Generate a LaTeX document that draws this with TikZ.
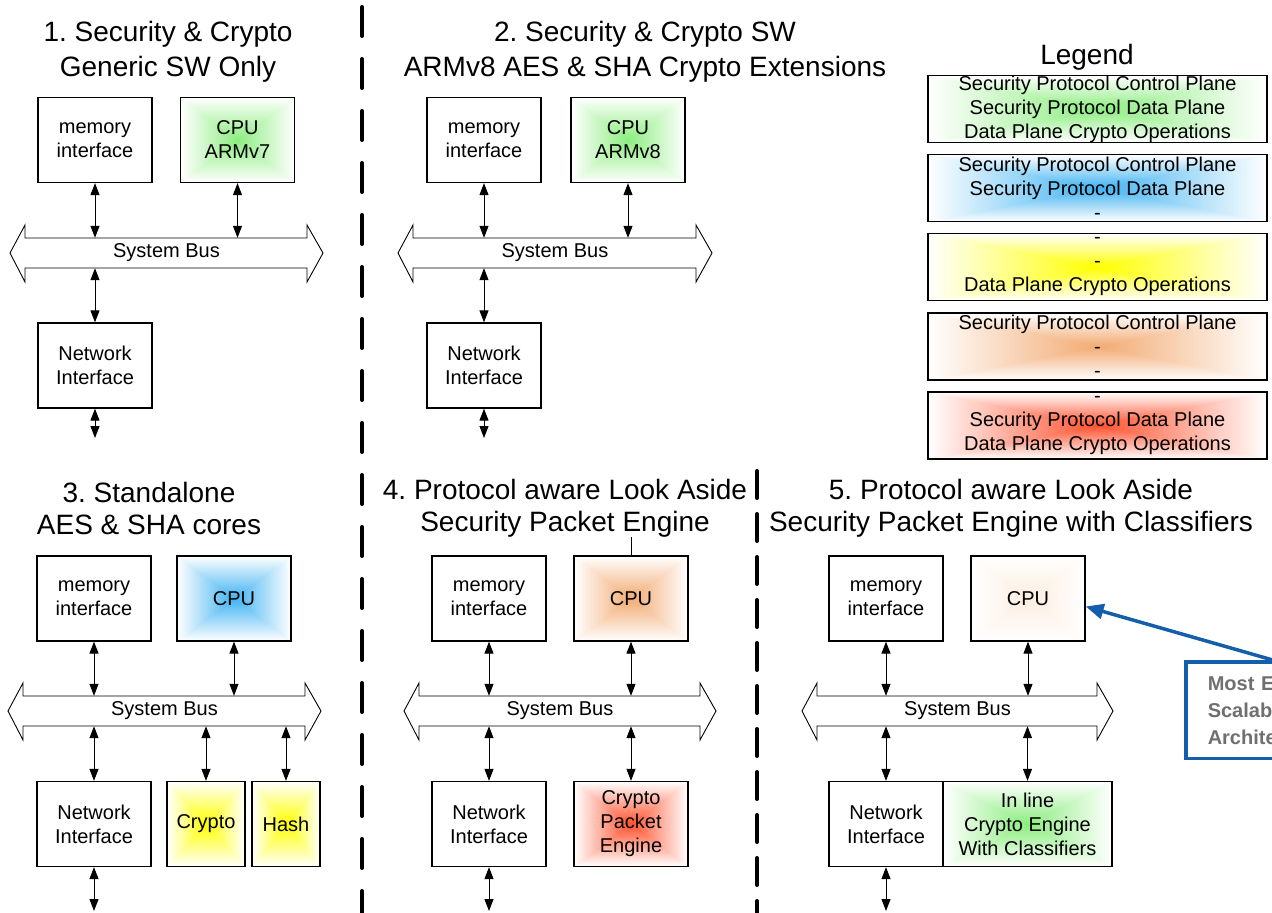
\documentclass[tikz,border=0pt]{standalone}
\usepackage{fontspec}
\setmainfont{Liberation Sans}
\usetikzlibrary{arrows.meta}
\frenchspacing

% Rectangular "glow" fill: colour at the centre, fading to white at the edges.
% Args: name, r, g, b of the centre colour.
\newcommand\declareglow[4]{%
  \pgfdeclarefunctionalshading{#1}{\pgfpoint{0bp}{0bp}}{\pgfpoint{100bp}{100bp}}{}{%
    50 sub abs exch 50 sub abs
    2 copy sub abs add add 2 div 25 div
    dup 1 sub abs neg add 1 add 2 div
    dup 1 #2 sub mul #2 add exch
    dup 1 #3 sub mul #3 add exch
    1 #4 sub mul #4 add}}
\declareglow{glowgreen}{0.55}{0.93}{0.50}
\declareglow{glowblue}{0.25}{0.70}{0.95}
\declareglow{glowyellow}{1}{1}{0}
\declareglow{gloworange}{0.95}{0.67}{0.45}
\declareglow{glowred}{1}{0.32}{0.18}
\declareglow{glowpeach}{0.99}{0.93}{0.88}

\definecolor{calloutblue}{RGB}{20,94,172}
\definecolor{noteGray}{RGB}{112,112,112}

\tikzset{
  block/.style={draw=black, line width=1.3pt, minimum width=114pt, minimum height=85pt,
    inner sep=0pt, align=center, font=\fontsize{20}{24}\selectfont},
  glow/.style={shade, shading=#1, shading angle=0},
  legendbox/.style={draw=black, line width=1.2pt, minimum width=339pt, minimum height=67pt,
    inner sep=0pt, align=center, font=\fontsize{20}{24}\selectfont},
  toptitle/.style={align=center, inner sep=0pt, font=\fontsize{28}{35}\selectfont},
  lowtitle/.style={align=center, inner sep=0pt, font=\fontsize{28}{32}\selectfont},
  buslabel/.style={minimum height=30pt, inner sep=0pt, font=\fontsize{20}{24}\selectfont},
  busline/.style={draw=black, line width=0.9pt, fill=white},
  biarrow/.style={{Triangle[length=12pt,width=9pt]}-{Triangle[length=12pt,width=9pt]}, line width=1pt},
  divider/.style={line width=4pt, line cap=round},
  note/.style={draw=calloutblue, line width=3.5pt, align=left, anchor=north west,
    text width=150pt, inner xsep=22pt, inner ysep=14pt,
    text=noteGray, font=\bfseries\fontsize{20}{27}\selectfont},
  pointer/.style={draw=calloutblue, line width=3.5pt, -{Triangle[length=18pt,width=15pt]}}
}

% System bus: name, left tip x, right tip x, centre y
\newcommand\sysbus[4]{%
  \path[busline] (#2,#4) -- (#2+15,#4-28) -- (#2+15,#4-15) -- (#3-16,#4-15) -- (#3-16,#4-28)
    -- (#3,#4) -- (#3-16,#4+29) -- (#3-16,#4+15) -- (#2+15,#4+15) -- (#2+15,#4+29) -- cycle;
  \node[buslabel] (#1) at ({(#2+#3)/2},#4) {System Bus};}

\begin{document}
\begin{tikzpicture}[x=1pt,y=-1pt]
\useasboundingbox (0,0) rectangle (1272,913);
\clip (0,0) rectangle (1272,913);
\fill[white] (0,0) rectangle (1272,913);

% dividers between the five variants
\draw[divider, dash pattern=on 29pt off 23pt] (362,7) -- (362,913);
\draw[divider, dash pattern=on 27pt off 16pt] (757,471) -- (757,913);

% ---------- 1. generic software ----------
\node[toptitle] (t1) at (168,52) {1. Security \& Crypto\\Generic SW Only};
\node[block] (mem1) at (95,140) {memory\\interface};
\node[block, glow=glowgreen] (cpu1) at (237.5,140) {CPU\\ARMv7};
\sysbus{b1}{10}{323}{253}
\node[block] (net1) at (95,365.5) {Network\\Interface};
\coordinate (out1) at (95,438);
\draw[biarrow] (mem1.south) -- (mem1.south |- b1.north);
\draw[biarrow] (cpu1.south) -- (cpu1.south |- b1.north);
\draw[biarrow] (net1.north) -- (net1.north |- b1.south);
\draw[biarrow] (net1.south) -- (out1);

% ---------- 2. ARMv8 crypto extensions ----------
\node[toptitle] (t2) at (645,52) {2. Security \& Crypto SW\\ARMv8 AES \& SHA Crypto Extensions};
\node[block] (mem2) at (484,140) {memory\\interface};
\node[block, glow=glowgreen] (cpu2) at (628,140) {CPU\\ARMv8};
\sysbus{b2}{398}{712}{253}
\node[block] (net2) at (484,365.5) {Network\\Interface};
\coordinate (out2) at (484,438);
\draw[biarrow] (mem2.south) -- (mem2.south |- b2.north);
\draw[biarrow] (cpu2.south) -- (cpu2.south |- b2.north);
\draw[biarrow] (net2.north) -- (net2.north |- b2.south);
\draw[biarrow] (net2.south) -- (out2);

% ---------- legend ----------
\node[toptitle] (lg) at (1087,57) {Legend};
\node[legendbox, glow=glowgreen] (lg1) at (1097.5,109)
  {Security Protocol Control Plane\\Security Protocol Data Plane\\Data Plane Crypto Operations};
\node[legendbox, glow=glowblue] (lg2) at (1097.5,188)
  {Security Protocol Control Plane\\Security Protocol Data Plane\\-};
\node[legendbox, glow=glowyellow] (lg3) at (1097.5,267)
  {-\\-\\Data Plane Crypto Operations};
\node[legendbox, glow=gloworange] (lg4) at (1097.5,346.5)
  {Security Protocol Control Plane\\-\\-};
\node[legendbox, glow=glowred] (lg5) at (1097.5,425.5)
  {-\\Security Protocol Data Plane\\Data Plane Crypto Operations};

% ---------- 3. standalone cores ----------
\node[lowtitle] (t3) at (149,508) {3. Standalone\\AES \& SHA cores};
\node[block] (mem3) at (94,598.5) {memory\\interface};
\node[block, glow=glowblue] (cpu3) at (234,598.5) {CPU};
\sysbus{b3}{8}{321}{711}
\node[block] (net3) at (94,824) {Network\\Interface};
\node[block, glow=glowyellow, minimum width=78pt] (cry3) at (206,824) {Crypto};
\node[block, glow=glowyellow, minimum width=68pt] (hash3) at (286,824) {Hash};
\coordinate (out3) at (94,911);
\draw[biarrow] (mem3.south) -- (mem3.south |- b3.north);
\draw[biarrow] (cpu3.south) -- (cpu3.south |- b3.north);
\draw[biarrow] (net3.north) -- (net3.north |- b3.south);
\draw[biarrow] (cry3.north) -- (cry3.north |- b3.south);
\draw[biarrow] (hash3.north) -- (hash3.north |- b3.south);
\draw[biarrow] (net3.south) -- (out3);

% ---------- 4. look-aside packet engine ----------
\node[lowtitle] (t4) at (565,508) {4. Protocol aware Look Aside\\Security Packet Engine};
\node[block] (mem4) at (489,598.5) {memory\\interface};
\node[block, glow=gloworange] (cpu4) at (631,598.5) {CPU};
\sysbus{b4}{404}{716}{711}
\node[block] (net4) at (489,824) {Network\\Interface};
\node[block, glow=glowred] (cpe4) at (631,824) {Crypto\\Packet\\Engine};
\coordinate (out4) at (489,911);
\draw[line width=1pt] (cpu4.north) -- (cpu4.north |- t4.south);
\draw[biarrow] (mem4.south) -- (mem4.south |- b4.north);
\draw[biarrow] (cpu4.south) -- (cpu4.south |- b4.north);
\draw[biarrow] (net4.north) -- (net4.north |- b4.south);
\draw[biarrow] (cpe4.north) -- (cpe4.north |- b4.south);
\draw[biarrow] (net4.south) -- (out4);

% ---------- 5. look-aside engine with classifiers ----------
\node[lowtitle] (t5) at (1011,508) {5. Protocol aware Look Aside\\Security Packet Engine with Classifiers};
\node[block] (mem5) at (886,598.5) {memory\\interface};
\node[block, glow=glowpeach] (cpu5) at (1028,598.5) {CPU};
\sysbus{b5}{802}{1113}{711}
\node[block] (net5) at (886,824) {Network\\Interface};
\node[block, glow=glowgreen, minimum width=169pt] (inl5) at (1027.5,824) {In line\\Crypto Engine\\With Classifiers};
\coordinate (out5) at (886,911);
\draw[biarrow] (mem5.south) -- (mem5.south |- b5.north);
\draw[biarrow] (cpu5.south) -- (cpu5.south |- b5.north);
\draw[biarrow] (net5.north) -- (net5.north |- b5.south);
\draw[biarrow] (inl5.north) -- (inl5.north |- b5.south);
\draw[biarrow] (net5.south) -- (out5);

% callout
\node[note] (callout) at (1184,660) {Most Efficient\\Scalable\\Architecture};
\draw[pointer] ([xshift=-10pt]callout.north) -- ([yshift=-8pt]cpu5.east);
\end{tikzpicture}
\end{document}
